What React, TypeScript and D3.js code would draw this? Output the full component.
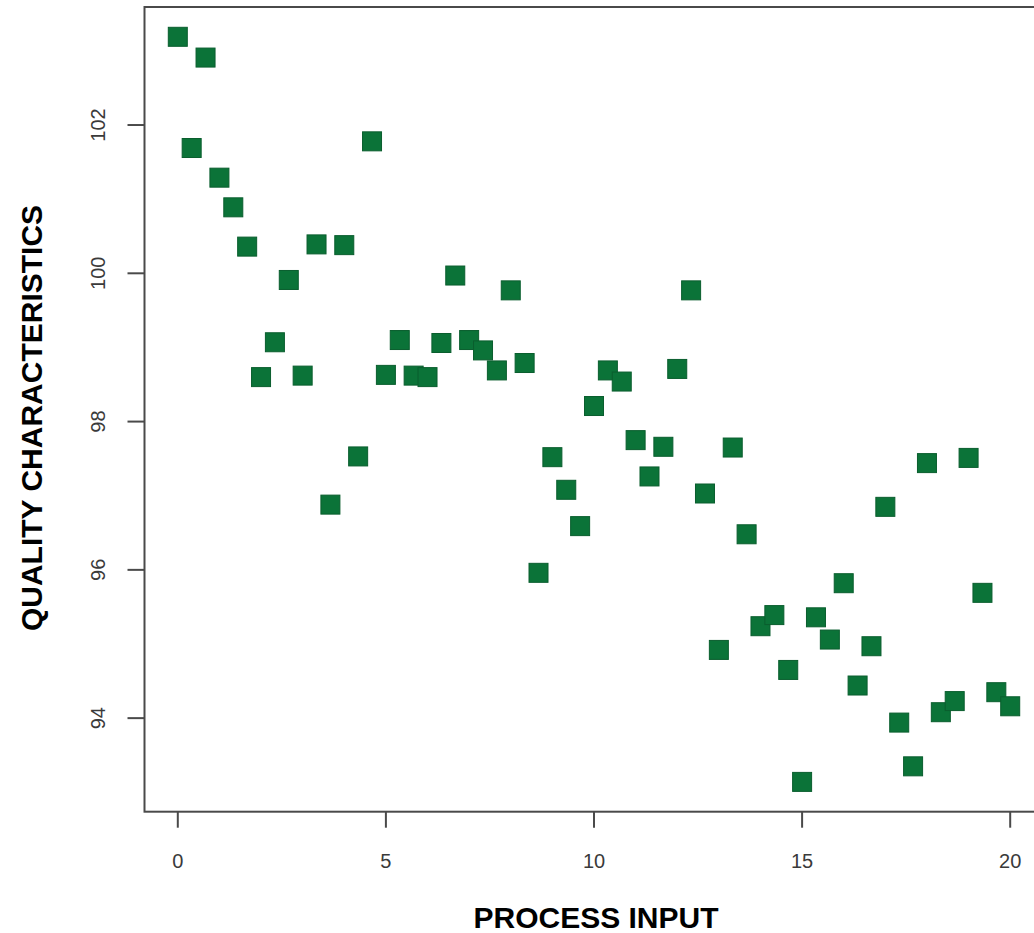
import React from "react";
import * as d3 from "d3";

// Process input values (x) and quality characteristic readings (y)
const processInput: number[] = [
  0, 1 / 3, 2 / 3, 1, 4 / 3, 5 / 3, 2, 7 / 3, 8 / 3, 3, 10 / 3, 11 / 3, 4, 13 / 3, 14 / 3,
  5, 16 / 3, 17 / 3, 6, 19 / 3, 20 / 3, 7, 22 / 3, 23 / 3, 8, 25 / 3, 26 / 3, 9, 28 / 3, 29 / 3,
  10, 31 / 3, 32 / 3, 11, 34 / 3, 35 / 3, 12, 37 / 3, 38 / 3, 13, 40 / 3, 41 / 3, 14, 43 / 3, 44 / 3,
  15, 46 / 3, 47 / 3, 16, 49 / 3, 50 / 3, 17, 52 / 3, 53 / 3, 18, 55 / 3, 56 / 3, 19, 58 / 3, 59 / 3, 20,
];
const quality: number[] = [
  103.19, 101.69, 102.91, 101.29, 100.89, 100.36, 98.6, 99.07, 99.91, 98.62, 100.39, 96.88, 100.38, 97.53, 101.78,
  98.63, 99.1, 98.62, 98.6, 99.06, 99.97, 99.1, 98.96, 98.69, 99.77, 98.79, 95.96, 97.52, 97.08, 96.59,
  98.21, 98.69, 98.54, 97.75, 97.26, 97.66, 98.71, 99.77, 97.03, 94.92, 97.65, 96.48, 95.24, 95.39, 94.65,
  93.14, 95.36, 95.06, 95.82, 94.44, 94.97, 96.85, 93.94, 93.35, 97.44, 94.08, 94.23, 97.51, 95.69, 94.35, 94.16,
];
const xTicks: number[] = [0, 5, 10, 15, 20];
const yTicks: number[] = [94, 96, 98, 100, 102];
const xTitle = "PROCESS INPUT";
const yTitle = "QUALITY CHARACTERISTICS";

const W = 1034;
const H = 933;
const left = 144.5;
const right = 1043.5;
const top = 7;
const bottom = 811.7;

function padded(vals: number[]): [number, number] {
  const [lo, hi] = d3.extent(vals) as [number, number];
  const p = (hi - lo) * 0.04;
  return [lo - p, hi + p];
}

export default function App() {
  const x = d3.scaleLinear().domain(padded(processInput)).range([left, right]);
  const y = d3.scaleLinear().domain(padded(quality)).range([bottom, top]);
  const pts = processInput.map((v, i) => ({ x: v, y: quality[i] }));
  const s = 19;
  const font = "'Liberation Sans', Arial, Helvetica, sans-serif";
  return (
    <svg
      width={W}
      height={H}
      style={{ position: "absolute", left: 0, top: 0, background: "#fff" }}
      fontFamily={font}
    >
      <rect x={0} y={0} width={W} height={H} fill="#fff" />
      {pts.map((p, i) => (
        <rect
          key={i}
          x={x(p.x) - s / 2}
          y={y(p.y) - s / 2}
          width={s}
          height={s}
          fill="#0b7338"
          stroke="#0a5e2e"
          strokeWidth={1}
        />
      ))}
      <rect
        x={left}
        y={top}
        width={right - left}
        height={bottom - top}
        fill="none"
        stroke="#4a4a4a"
        strokeWidth={2}
      />
      {xTicks.map((t) => (
        <g key={"x" + t}>
          <line x1={x(t)} x2={x(t)} y1={bottom} y2={bottom + 16} stroke="#4a4a4a" strokeWidth={2} />
          <text x={x(t)} y={868} textAnchor="middle" fontSize={20} fill="#3a3a3a">
            {t}
          </text>
        </g>
      ))}
      {yTicks.map((t) => (
        <g key={"y" + t}>
          <line x1={left - 17} x2={left} y1={y(t)} y2={y(t)} stroke="#4a4a4a" strokeWidth={2} />
          <text
            transform={`translate(105,${y(t)}) rotate(-90)`}
            textAnchor="middle"
            fontSize={20}
            fill="#3a3a3a"
          >
            {t}
          </text>
        </g>
      ))}
      <text x={596} y={928} textAnchor="middle" fontSize={30} fontWeight="bold" fill="#000">
        {xTitle}
      </text>
      <text
        transform={`translate(42,418) rotate(-90)`}
        textAnchor="middle"
        fontSize={30}
        fontWeight="bold"
        fill="#000"
      >
        {yTitle}
      </text>
    </svg>
  );
}
